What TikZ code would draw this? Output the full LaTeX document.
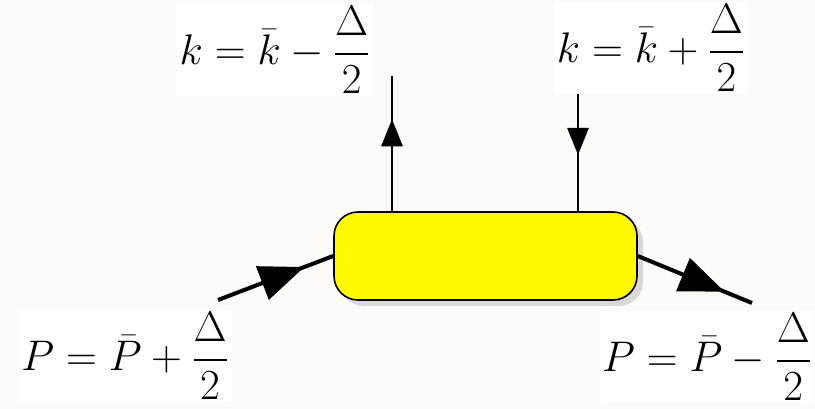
\documentclass[tikz,border=0pt]{standalone}
\usepackage{amsmath,amssymb}
\usepackage{xcolor}
\usepackage{tikz}
\usetikzlibrary{arrows.meta,calc,positioning,shadows,decorations.markings}
\definecolor{vxyellow}{RGB}{255,250,0}
\definecolor{vxpaper}{RGB}{252,251,248}
\definecolor{vxink}{RGB}{0,0,0}
\tikzset{
  momlabel/.style={fill=white,inner sep=1.5pt,scale=1.72,transform shape,
    font=\fontsize{24.88}{30}\selectfont},
  midarrow/.style n args={3}{postaction={decorate},decoration={markings,
      mark=at position #1 with {\arrow{Triangle[length=#2pt,width=#3pt]}}}},
}
\begin{document}
\begin{tikzpicture}[x=1pt,y=1pt,line cap=butt]
  \fill[vxpaper] (0,0) rectangle (815,409);
  \useasboundingbox (0,0) rectangle (815,409);
  % vertex
  \node[draw=vxink,line width=1.6pt,fill=vxyellow,rounded corners=24pt,
    minimum width=303pt,minimum height=88pt,
    drop shadow={shadow xshift=6pt,shadow yshift=-6pt,fill=gray!55}]
    (vtx) at (485.5,153) {};
  % labels
  \node[momlabel] (kminus) at (275,359) {$\displaystyle k=\bar{k}-\frac{\Delta}{2}$};
  \node[momlabel] (kplus) at (651,361) {$\displaystyle k=\bar{k}+\frac{\Delta}{2}$};
  \node[momlabel] (pplus) at (125,53) {$\displaystyle P=\bar{P}+\frac{\Delta}{2}$};
  \node[momlabel] (pminus) at (707,52) {$\displaystyle P=\bar{P}-\frac{\Delta}{2}$};
  % free ends
  \coordinate (kout) at (392,333);
  \coordinate (kin) at (578,315);
  \coordinate (pin) at (218,109);
  \coordinate (pout) at (752,106);
  % legs
  \draw[line width=2.7pt,midarrow={0.68}{27}{21}] (kout |- vtx.north) -- (kout);
  \draw[line width=2.7pt,midarrow={0.52}{27}{21}] (kin) -- (kin |- vtx.north);
  \draw[line width=4pt,midarrow={0.75}{45}{35}] (pin) -- (vtx.west);
  \draw[line width=4pt,midarrow={0.76}{45}{35}] (vtx.east) -- (pout);
\end{tikzpicture}
\end{document}
